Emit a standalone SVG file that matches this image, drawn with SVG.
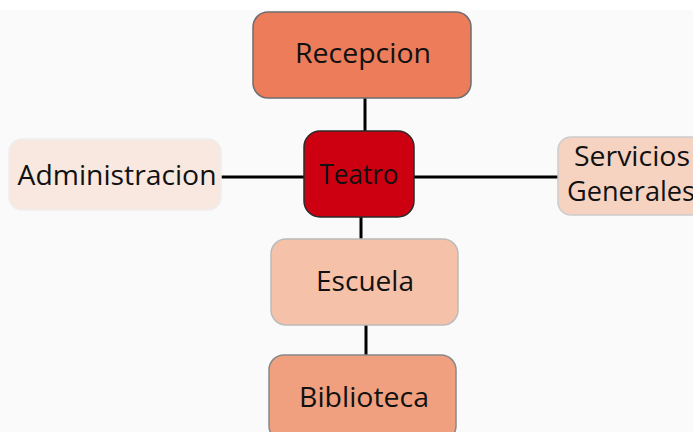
<svg xmlns="http://www.w3.org/2000/svg" width="693" height="432" viewBox="0 0 693 432">
<style>
.node{stroke-width:1.5}
.lbl{font-family:"Open Sans","Liberation Sans",Arial,sans-serif;font-size:28px;fill:#111;text-anchor:middle}
.conn line{stroke:#000;stroke-width:3}
</style>
<rect x="0" y="0" width="693" height="432" fill="#fafafa"/>
<rect x="0" y="0" width="693" height="10" fill="#ffffff"/>
<g id="connectors" class="conn">
<line x1="365" y1="98" x2="365" y2="132"/>
<line x1="361" y1="216" x2="361" y2="240"/>
<line x1="366" y1="325" x2="366" y2="356"/>
<line x1="221" y1="177" x2="305" y2="177"/>
<line x1="413" y1="177" x2="559" y2="177"/>
</g>
<g id="recepcion">
<rect class="node" x="253" y="12" width="218" height="86" rx="15" fill="#ec7c5a" stroke="#6e6e6e"/>
<text class="lbl" x="363" y="63" textLength="136" lengthAdjust="spacingAndGlyphs">Recepcion</text>
</g>
<g id="teatro">
<rect class="node" x="304" y="131" width="110" height="86" rx="16" fill="#cc0010" stroke="#2a2a2a"/>
<text class="lbl" x="359" y="184" textLength="79" lengthAdjust="spacingAndGlyphs">Teatro</text>
</g>
<g id="administracion">
<rect class="node" x="9" y="139" width="212" height="71" rx="13" fill="#f8e8df" stroke="#eeeeee"/>
<text class="lbl" x="117" y="185" textLength="199" lengthAdjust="spacingAndGlyphs">Administracion</text>
</g>
<g id="servicios">
<rect class="node" x="558" y="137" width="150" height="78" rx="13" fill="#f6d3c0" stroke="#cccccc"/>
<text class="lbl" x="632" y="166" textLength="116" lengthAdjust="spacingAndGlyphs">Servicios</text>
<text class="lbl" x="631" y="201" textLength="128" lengthAdjust="spacingAndGlyphs">Generales</text>
</g>
<g id="escuela">
<rect class="node" x="271" y="239" width="187" height="86" rx="15" fill="#f5c2a9" stroke="#bbbbbb"/>
<text class="lbl" x="365" y="291" textLength="98" lengthAdjust="spacingAndGlyphs">Escuela</text>
</g>
<g id="biblioteca">
<rect class="node" x="269" y="355" width="187" height="86" rx="15" fill="#f0a07e" stroke="#888888"/>
<text class="lbl" x="364" y="407" textLength="130" lengthAdjust="spacingAndGlyphs">Biblioteca</text>
</g>
</svg>
